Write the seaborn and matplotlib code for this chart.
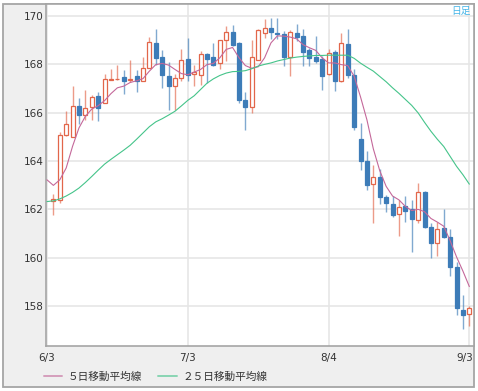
import matplotlib
matplotlib.use("Agg")
import matplotlib.pyplot as plt
from matplotlib.patches import Rectangle
from matplotlib.transforms import Bbox, TransformedBbox, ScaledTranslation
import numpy as np
import pandas as pd
import seaborn as sns

# trading-day index of the date labels on the x axis
tick_days = [0, 22, 44, 66]
tick_labels = ["6/3", "7/3", "8/4", "9/3"]

# daily candles, trading days 1..66
open_ = [162.33, 162.39, 165.06, 164.99, 166.27, 165.92, 166.22, 166.69, 166.40, 167.37,
         167.38, 167.46, 167.35, 167.51, 167.32, 167.86, 168.89, 168.31, 167.52, 167.10,
         167.44, 168.23, 167.62, 167.58, 168.44, 168.30, 168.04, 169.00, 169.35, 168.87,
         166.54, 166.24, 168.20, 169.28, 169.49, 169.32, 169.27, 168.31, 169.29, 169.16,
         168.58, 168.31, 168.24, 167.62, 168.51, 167.30, 168.85, 167.55, 164.91, 163.98,
         163.04, 163.33, 162.49, 162.21, 161.81, 162.12, 162.01, 161.56, 162.71, 161.26,
         160.59, 161.22, 160.84, 159.63, 157.83, 157.66]
high = [162.64, 165.19, 166.09, 167.11, 166.60, 166.96, 166.75, 166.86, 167.62, 167.81,
        167.98, 167.77, 168.17, 167.77, 168.31, 169.13, 169.45, 168.58, 168.09, 167.62,
        168.62, 169.10, 167.99, 168.55, 168.48, 168.89, 169.03, 169.59, 169.63, 168.92,
        166.85, 169.03, 169.47, 169.89, 169.93, 169.93, 169.38, 169.41, 169.68, 169.45,
        168.69, 169.17, 168.34, 168.62, 168.59, 169.31, 169.45, 167.79, 165.57, 164.40,
        163.85, 163.68, 162.60, 162.53, 162.37, 162.53, 162.39, 163.08, 162.74, 161.45,
        161.49, 162.01, 161.18, 159.83, 158.45, 158.00]
low = [161.77, 162.28, 165.02, 164.99, 165.55, 165.71, 165.68, 165.64, 166.40, 167.37,
       167.36, 166.78, 167.26, 166.85, 167.32, 167.86, 167.99, 167.03, 166.13, 166.13,
       167.30, 167.33, 167.12, 167.16, 167.23, 167.93, 167.81, 168.16, 168.76, 166.40,
       165.30, 165.99, 168.17, 169.10, 169.06, 169.06, 167.93, 167.51, 168.96, 167.95,
       167.93, 168.06, 166.96, 167.58, 166.89, 167.26, 167.44, 165.30, 163.64, 162.81,
       161.42, 162.23, 161.88, 161.67, 160.90, 161.49, 160.22, 161.42, 161.22, 160.00,
       160.08, 160.80, 159.24, 157.62, 157.03, 157.16]
close = [162.42, 165.09, 165.55, 166.27, 165.89, 166.18, 166.65, 166.20, 167.40, 167.40,
         167.40, 167.30, 167.39, 167.32, 167.83, 168.92, 168.27, 167.54, 167.10, 167.44,
         168.17, 167.54, 167.70, 168.44, 168.23, 167.99, 168.99, 169.35, 168.82, 166.51,
         166.24, 168.31, 169.42, 169.49, 169.35, 169.25, 168.31, 169.35, 169.14, 168.52,
         168.27, 168.16, 167.51, 168.48, 167.30, 168.89, 167.54, 165.39, 163.98, 162.99,
         163.33, 162.49, 162.28, 161.77, 162.09, 161.91, 161.59, 162.71, 161.26, 160.59,
         161.20, 160.84, 159.63, 157.90, 157.62, 157.90]

# moving averages, trading days 0..66
ma5 = [163.22, 162.99, 163.22, 163.71, 164.61, 165.37, 165.85, 166.15, 166.29, 166.50,
       166.79, 167.03, 167.10, 167.25, 167.32, 167.41, 167.72, 167.99, 168.04, 167.97,
       167.79, 167.62, 167.57, 167.68, 167.79, 167.99, 168.04, 168.27, 168.62, 168.70,
       168.28, 167.95, 167.84, 167.90, 168.27, 168.89, 169.18, 169.17, 169.13, 169.06,
       168.82, 168.69, 168.58, 168.27, 168.06, 168.06, 167.99, 167.95, 167.51, 166.65,
       165.70, 164.50, 163.60, 162.95, 162.55, 162.39, 162.12, 161.95, 162.00, 161.90,
       161.62, 161.47, 161.30, 160.70, 160.03, 159.44, 158.80]
ma25 = [162.32, 162.35, 162.43, 162.55, 162.70, 162.88, 163.11, 163.36, 163.62, 163.87,
        164.07, 164.26, 164.45, 164.65, 164.90, 165.16, 165.42, 165.62, 165.75, 165.90,
        166.06, 166.28, 166.51, 166.70, 166.96, 167.22, 167.40, 167.54, 167.64, 167.70,
        167.71, 167.74, 167.82, 167.93, 168.00, 168.06, 168.14, 168.20, 168.26, 168.30,
        168.33, 168.35, 168.37, 168.37, 168.38, 168.38, 168.38, 168.38, 168.25, 168.05,
        167.88, 167.72, 167.50, 167.28, 167.03, 166.80, 166.55, 166.30, 165.99, 165.60,
        165.23, 164.90, 164.60, 164.19, 163.78, 163.43, 163.04]

UP = "#e2664a"
DOWN = "#3d7cb8"
PINK = "#c4689a"
GREEN = "#45c48a"

sns.set_theme(style="white")
plt.rcParams["font.family"] = ["DejaVu Sans", "Noto Sans CJK JP"]

candles = pd.DataFrame({
    "day": np.arange(1, len(close) + 1),
    "open": open_, "high": high, "low": low, "close": close,
})
candles["up"] = candles["close"] >= candles["open"]

ma = pd.DataFrame({
    "day": np.arange(len(ma5)),
    "５日移動平均線": ma5,
    "２５日移動平均線": ma25,
}).melt(id_vars="day", var_name="series", value_name="price")

fig = plt.figure(figsize=(4.78, 3.91), dpi=100)
fig.patches.append(Rectangle(
    (3 / 478, 4 / 391), 470.5 / 478, 383 / 391, transform=fig.transFigure,
    facecolor="#efefef", edgecolor="#a5a5a5", lw=1.3, zorder=-1,
))
ax = fig.add_axes([45.7 / 478, 45 / 391, 427.8 / 478, 342 / 391])
ax.set_zorder(1)
ax.set_facecolor("white")

wick_colors = np.where(candles["up"], UP, DOWN)
ax.vlines(candles["day"], candles["low"], candles["high"], colors=wick_colors,
          lw=1.0, alpha=0.65, zorder=2)
body_bottom = np.minimum(candles["open"], candles["close"])
body_height = np.maximum((candles["close"] - candles["open"]).abs(), 0.03)
ax.bar(candles["day"], body_height, bottom=body_bottom, width=0.62,
       color=np.where(candles["up"], "white", DOWN), edgecolor=wick_colors,
       lw=0.9, zorder=3)

sns.lineplot(data=ma, x="day", y="price", hue="series",
             palette=[PINK, GREEN], lw=0.8, ax=ax, zorder=4)
handles, labels = ax.get_legend_handles_labels()
ax.get_legend().remove()
for h in handles:
    h.set_linewidth(1.4)
    h.set_alpha(0.6)

ax.set_xlim(-0.2, 66.65)
ax.set_ylim(156.34, 170.5)
ax.set_xticks(tick_days)
ax.set_xticklabels(tick_labels)
ax.set_yticks(range(158, 171, 2))
ax.set_xlabel("")
ax.set_ylabel("")
ax.grid(True, color="#e6e6e6", lw=1.2)
ax.set_axisbelow(True)
ax.tick_params(axis="both", length=0, labelsize=7.5, colors="#333333")
ax.tick_params(axis="y", pad=1.5)
ax.tick_params(axis="x", pad=5)
for side in ["left", "bottom", "top", "right"]:
    ax.spines[side].set_color("#a5a5a5")
    ax.spines[side].set_linewidth(1.2)

# the last date label is pushed left and slightly cut by the frame
last = ax.xaxis.get_major_ticks()[-1].label1
last.set_transform(last.get_transform() + ScaledTranslation(-4.5 / 100, 0, fig.dpi_scale_trans))
frame_box = TransformedBbox(Bbox.from_extents(0, 0, 473.5 / 478, 1), fig.transFigure)
last.set_clip_box(frame_box)
last.set_clip_on(True)

fig.legend(handles, labels, loc="center left", bbox_to_anchor=(44 / 478, 14 / 391),
           ncol=2, frameon=False, fontsize=7.7, handlelength=1.7,
           handletextpad=0.55, columnspacing=1.5, borderpad=0, borderaxespad=0,
           labelcolor="#333333")
fig.text(471 / 478, 1 - 11 / 391, "日足", ha="right", va="center",
         fontsize=7, color="#45b5e8", family=["Noto Sans CJK JP", "DejaVu Sans"])

fig.savefig("out.png", dpi=100)
